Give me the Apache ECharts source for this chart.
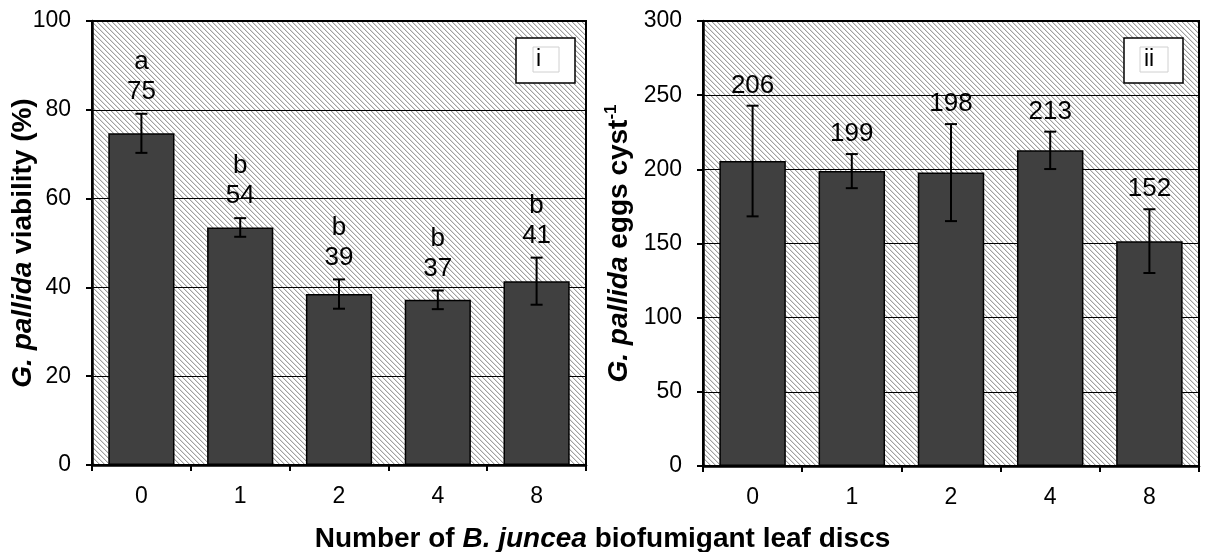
<!DOCTYPE html>
<html>
<head>
<meta charset="utf-8">
<script src="https://cdn.jsdelivr.net/npm/echarts@6/dist/echarts.min.js"></script>
<style>
html,body{margin:0;padding:0;background:#fff;}
#chart{width:1205px;height:552px;}
</style>
</head>
<body>
<div id="chart"></div>
<script>
// ---- data ----
const categories = ['0', '1', '2', '4', '8'];
const viabilityMean = [74.7, 53.5, 38.5, 37.2, 41.4];
const viabilityErr = [4.4, 2.1, 3.3, 2.1, 5.3];
const viabilityLabels = ['75', '54', '39', '37', '41'];
const viabilityGroups = ['a', 'b', 'b', 'b', 'b'];
const eggsMean = [205.6, 198.8, 197.8, 212.8, 151.6];
const eggsErr = [37.3, 11.5, 32.7, 12.6, 21.5];
const eggsLabels = ['206', '199', '198', '213', '152'];
const viabilityAxis = { min: 0, max: 100, interval: 20 };
const eggsAxis = { min: 0, max: 300, interval: 50 };

// ---- hatch pattern ----
const tile = document.createElement('canvas');
tile.width = 5; tile.height = 5;
const tctx = tile.getContext('2d');
tctx.fillStyle = '#ffffff';
tctx.fillRect(0, 0, 5, 5);
for (let i = 0; i < 5; i++) {
  tctx.fillStyle = '#a0a0a0';
  tctx.fillRect(i, i, 1, 1);
  tctx.fillStyle = '#dcdcdc';
  tctx.fillRect((i + 1) % 5, i, 1, 1);
}
const hatch = { image: tile, repeat: 'repeat' };

const FONT = '"Liberation Sans", Arial, sans-serif';
const LABEL_FONT = '26px ' + FONT;

function errData(mean, err) {
  return mean.map((m, i) => [i, m - err[i], m + err[i]]);
}

function errSeries(xi, yi, mean, err, nums, letters, numOffset) {
  return {
    type: 'custom',
    xAxisIndex: xi, yAxisIndex: yi,
    z: 5,
    data: errData(mean, err),
    renderItem: function (params, api) {
      const idx = params.dataIndex;
      const top = api.coord([api.value(0), api.value(2)]);
      const bot = api.coord([api.value(0), api.value(1)]);
      const cap = 6;
      const children = [
        { type: 'line', shape: { x1: top[0], y1: top[1], x2: bot[0], y2: bot[1] }, style: { stroke: '#000', lineWidth: 2 } },
        { type: 'line', shape: { x1: top[0] - cap, y1: top[1], x2: top[0] + cap, y2: top[1] }, style: { stroke: '#000', lineWidth: 2 } },
        { type: 'line', shape: { x1: bot[0] - cap, y1: bot[1], x2: bot[0] + cap, y2: bot[1] }, style: { stroke: '#000', lineWidth: 2 } },
        { type: 'text', x: top[0], y: top[1] - numOffset, style: { text: nums[idx], fill: '#000', font: LABEL_FONT, align: 'center', verticalAlign: 'middle' } }
      ];
      if (letters) {
        children.push({ type: 'text', x: top[0], y: top[1] - numOffset - 30, style: { text: letters[idx], fill: '#000', font: LABEL_FONT, align: 'center', verticalAlign: 'middle' } });
      }
      return { type: 'group', children: children };
    }
  };
}

function xAxisCfg(gi) {
  return {
    type: 'category', gridIndex: gi, data: categories, boundaryGap: true,
    axisLine: { show: true, lineStyle: { color: '#000', width: 2.5 } },
    axisTick: { show: true, length: 6, alignWithLabel: false, lineStyle: { color: '#000', width: 2 } },
    axisLabel: { color: '#000', fontSize: 23, fontFamily: FONT, margin: 20 },
    splitLine: { show: false }
  };
}

function yAxisCfg(gi, ax, name, gap, rich) {
  return {
    type: 'value', gridIndex: gi, min: ax.min, max: ax.max, interval: ax.interval,
    name: name, nameLocation: 'middle', nameRotate: 90, nameGap: gap,
    nameMoveOverlap: false,
    nameTextStyle: { color: '#000', fontFamily: FONT, fontSize: 28, fontWeight: 'bold', rich: rich },
    axisLine: { show: true, lineStyle: { color: '#000', width: 2.5 } },
    axisTick: { show: true, length: 6, lineStyle: { color: '#000', width: 2 } },
    axisLabel: { color: '#000', fontSize: 23, fontFamily: FONT, margin: 21 },
    splitLine: { show: true, lineStyle: { color: '#000', width: 1 } }
  };
}

const richTitle = {
  bi: { fontFamily: FONT, fontSize: 28, fontWeight: 'bold', fontStyle: 'italic', color: '#000' },
  b: { fontFamily: FONT, fontSize: 28, fontWeight: 'bold', color: '#000' },
  sup: { fontFamily: FONT, fontSize: 17, fontWeight: 'bold', color: '#000', verticalAlign: 'top', lineHeight: 32 }
};

const chart = echarts.init(document.getElementById('chart'), null, { renderer: 'canvas' });
chart.setOption({
  animation: false,
  backgroundColor: '#fff',
  title: {
    left: 'center', top: 520,
    text: '{b|Number of }{bi|B. juncea}{b| biofumigant leaf discs}',
    textStyle: { rich: richTitle, fontSize: 28, fontFamily: FONT }
  },
  grid: [
    { left: 92, right: 619, top: 21, bottom: 87, show: true, backgroundColor: hatch, borderColor: '#000', borderWidth: 2 },
    { left: 703, right: 6, top: 21, bottom: 86, show: true, backgroundColor: hatch, borderColor: '#000', borderWidth: 2 }
  ],
  xAxis: [xAxisCfg(0), xAxisCfg(1)],
  yAxis: [
    yAxisCfg(0, viabilityAxis, '{bi|G. pallida}{b| viability (%)}', 55, richTitle),
    yAxisCfg(1, eggsAxis, '{bi|G. pallida}{b| eggs cyst}{sup|-1}', 68, richTitle)
  ],
  series: [
    { type: 'bar', xAxisIndex: 0, yAxisIndex: 0, data: viabilityMean, barWidth: '67%',
      itemStyle: { color: '#404040', borderColor: '#000', borderWidth: 1.5 } },
    { type: 'bar', xAxisIndex: 1, yAxisIndex: 1, data: eggsMean, barWidth: '67%',
      itemStyle: { color: '#404040', borderColor: '#000', borderWidth: 1.5 } },
    errSeries(0, 0, viabilityMean, viabilityErr, viabilityLabels, viabilityGroups, 22),
    errSeries(1, 1, eggsMean, eggsErr, eggsLabels, null, 20)
  ],
  graphic: [
    { type: 'rect', shape: { x: 516, y: 38, width: 59, height: 45 }, style: { fill: '#fff', stroke: '#000', lineWidth: 1.5 }, z: 10 },
    { type: 'rect', shape: { x: 533, y: 47, width: 26, height: 25 }, style: { fill: '#fff', stroke: '#d0d0d0', lineWidth: 1 }, z: 11 },
    { type: 'text', x: 536, y: 60, style: { text: 'i', font: '23px ' + FONT, fill: '#000', align: 'left', verticalAlign: 'middle' }, z: 12 },
    { type: 'rect', shape: { x: 1124, y: 38, width: 59, height: 45 }, style: { fill: '#fff', stroke: '#000', lineWidth: 1.5 }, z: 10 },
    { type: 'rect', shape: { x: 1140, y: 47, width: 28, height: 25 }, style: { fill: '#fff', stroke: '#d0d0d0', lineWidth: 1 }, z: 11 },
    { type: 'text', x: 1144, y: 60, style: { text: 'ii', font: '23px ' + FONT, fill: '#000', align: 'left', verticalAlign: 'middle' }, z: 12 }
  ]
});
</script>
</body>
</html>
